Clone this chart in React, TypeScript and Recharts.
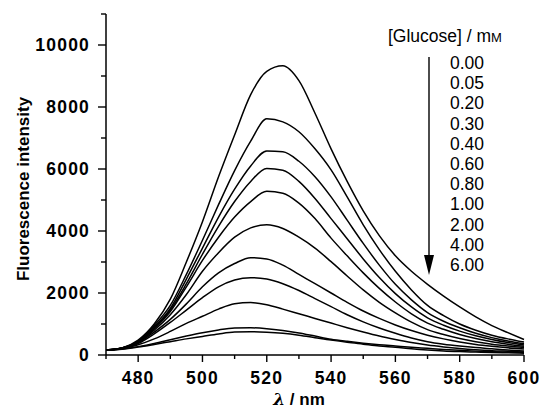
import { LineChart, Line, XAxis, YAxis } from "recharts";

const FONT = "'Liberation Sans', Arial, sans-serif";

// wavelength grid (nm)
const wavelengths = [470, 475, 480, 485, 490, 495, 500, 505, 510, 515, 520, 525, 530, 535, 540, 545, 550, 555, 560, 565, 570, 575, 580, 585, 590, 595, 600];

// glucose concentrations (mM), top to bottom
const glucose = ["0.00", "0.05", "0.20", "0.30", "0.40", "0.60", "0.80", "1.00", "2.00", "4.00", "6.00"];

// fluorescence intensity, one array per concentration
const g000 = [160, 230, 480, 1000, 1800, 3000, 4300, 5750, 7100, 8400, 9150, 9330, 8850, 7800, 6650, 5600, 4650, 3850, 3200, 2700, 2280, 1900, 1550, 1230, 950, 720, 500];
const g005 = [160, 230, 450, 950, 1600, 2600, 3700, 4850, 5950, 6900, 7620, 7520, 7200, 6650, 5970, 5100, 4200, 3400, 2700, 2100, 1600, 1270, 1000, 800, 640, 520, 420];
const g020 = [160, 225, 440, 900, 1500, 2450, 3450, 4450, 5350, 6100, 6580, 6560, 6250, 5750, 5100, 4350, 3600, 2900, 2280, 1780, 1370, 1090, 880, 700, 560, 450, 360];
const g030 = [160, 225, 430, 870, 1450, 2300, 3250, 4150, 4950, 5600, 6020, 5960, 5600, 5050, 4400, 3750, 3100, 2500, 1980, 1550, 1200, 960, 770, 620, 500, 400, 320];
const g040 = [160, 220, 420, 840, 1400, 2200, 3050, 3800, 4450, 4950, 5280, 5220, 4900, 4400, 3770, 3200, 2650, 2150, 1710, 1330, 1030, 830, 660, 530, 430, 350, 280];
const g060 = [160, 220, 410, 800, 1300, 1950, 2700, 3300, 3800, 4100, 4200, 4080, 3800, 3450, 3010, 2550, 2100, 1700, 1360, 1060, 820, 660, 530, 430, 350, 290, 240];
const g080 = [160, 215, 390, 740, 1150, 1650, 2200, 2650, 2950, 3140, 3100, 2900, 2600, 2300, 2000, 1700, 1420, 1180, 970, 790, 640, 520, 420, 340, 280, 230, 190];
const g100 = [155, 210, 370, 680, 1050, 1450, 1850, 2200, 2420, 2495, 2450, 2300, 2080, 1820, 1560, 1300, 1070, 870, 700, 550, 430, 350, 290, 240, 200, 160, 130];
const g200 = [150, 200, 330, 520, 760, 1020, 1250, 1480, 1650, 1690, 1620, 1480, 1330, 1180, 1030, 880, 740, 610, 500, 400, 320, 260, 210, 170, 140, 120, 100];
const g400 = [150, 190, 270, 370, 490, 610, 720, 810, 870, 880, 850, 790, 710, 610, 510, 440, 380, 330, 290, 250, 215, 180, 150, 125, 105, 90, 80];
const g600 = [150, 185, 255, 340, 430, 520, 600, 680, 740, 750, 735, 700, 640, 560, 480, 410, 350, 290, 250, 200, 160, 130, 110, 95, 80, 70, 60];

const xTicks = [470, 480, 490, 500, 510, 520, 530, 540, 550, 560, 570, 580, 590, 600];
const yTicks = [0, 1000, 2000, 3000, 4000, 5000, 6000, 7000, 8000, 9000, 10000, 11000];

const series = [g000, g005, g020, g030, g040, g060, g080, g100, g200, g400, g600];

const data = wavelengths.map((wl, i) => {
  const row: Record<string, number> = { wl };
  series.forEach((s, k) => {
    row[`s${k}`] = s[i];
  });
  return row;
});

function XTick({ x, y, payload }: any) {
  const major = payload.value % 20 === 0;
  return (
    <g>
      <line x1={x} y1={y} x2={x} y2={y + (major ? 7 : 4)} stroke="#000" strokeWidth={1.4} />
      {major && (
        <text x={x} y={y + 29} textAnchor="middle" fontFamily={FONT} fontWeight="bold" fontSize={17.5} letterSpacing={1.2} fill="#000">
          {payload.value}
        </text>
      )}
    </g>
  );
}

function YTick({ x, y, payload }: any) {
  const major = payload.value % 2000 === 0;
  return (
    <g>
      <line x1={x - (major ? 8 : 5)} y1={y} x2={x} y2={y} stroke="#000" strokeWidth={1.4} />
      {major && (
        <text x={x - 16} y={y + 6} textAnchor="end" fontFamily={FONT} fontWeight="bold" fontSize={17.5} letterSpacing={1.2} fill="#000">
          {payload.value}
        </text>
      )}
    </g>
  );
}

export default function App() {
  return (
    <div style={{ position: "relative", width: 541, height: 409, background: "#fff" }}>
      <style>{"body{margin:0;background:#fff}"}</style>
      <LineChart width={541} height={409} data={data} margin={{ top: 14, right: 17, bottom: 0, left: 0 }}>
        <XAxis
          dataKey="wl"
          type="number"
          domain={[470, 600]}
          ticks={xTicks}
          interval={0}
          height={54}
          tickSize={0}
          tickMargin={0}
          tick={<XTick />}
          axisLine={{ stroke: "#000", strokeWidth: 1.5 }}
          tickLine={false}
        />
        <YAxis
          type="number"
          domain={[0, 11000]}
          ticks={yTicks}
          interval={0}
          width={106}
          tickSize={0}
          tickMargin={0}
          tick={<YTick />}
          axisLine={{ stroke: "#000", strokeWidth: 1.5 }}
          tickLine={false}
        />
        {series.map((_, k) => (
          <Line
            key={glucose[k]}
            dataKey={`s${k}`}
            type="monotone"
            stroke="#000"
            strokeWidth={1.5}
            dot={false}
            isAnimationActive={false}
          />
        ))}
      </LineChart>
      <svg width={541} height={409} style={{ position: "absolute", left: 0, top: 0, pointerEvents: "none" }}>
        <text
          transform="translate(29,189) rotate(-90)"
          textAnchor="middle"
          fontFamily={FONT}
          fontWeight="bold"
          fontSize={17}
          fill="#000"
        >
          Fluorescence intensity
        </text>
        <text x={299} y={405} textAnchor="middle" fontFamily={FONT} fontWeight="bold" fontSize={17} fill="#000">
          <tspan fontStyle="italic" fontFamily="'DejaVu Serif', serif">λ</tspan>
          <tspan> / nm</tspan>
        </text>
        <text x={388} y={42} fontFamily={FONT} fontSize={17.5} fill="#000">
          [Glucose] / m<tspan fontSize={13}>M</tspan>
        </text>
        <line x1={429} y1={57} x2={429} y2={258} stroke="#000" strokeWidth={1.4} />
        <polygon points="424,255 434,255 429,275" fill="#000" />
        {glucose.map((g, i) => (
          <text key={g} x={450} y={69 + i * 20.2} fontFamily={FONT} fontSize={17.5} fill="#000">
            {g}
          </text>
        ))}
      </svg>
    </div>
  );
}
